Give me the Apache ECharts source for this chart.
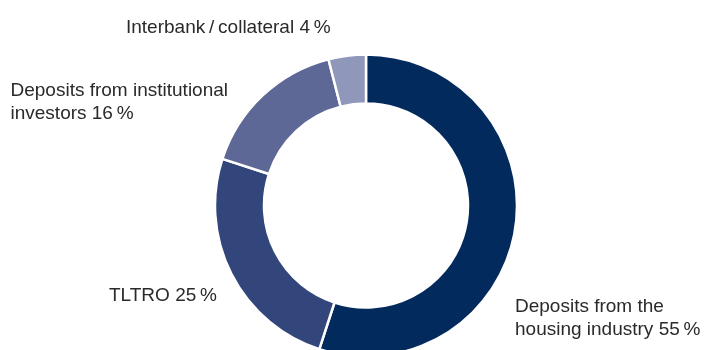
<!DOCTYPE html>
<html>
<head>
<meta charset="utf-8">
<script src="https://cdn.jsdelivr.net/npm/echarts@6/dist/echarts.min.js"></script>
<style>
  html, body { margin: 0; padding: 0; background: #ffffff; }
  #chart { width: 706px; height: 350px; }
</style>
</head>
<body>
<div id="chart"></div>
<script>
// Funding mix, shares in percent (clockwise from 12 o'clock)
const categories = [
  'Deposits from the\nhousing industry',
  'TLTRO',
  'Deposits from institutional\ninvestors',
  'Interbank\u2009/\u2009collateral'
];
const shares = [55, 25, 16, 4];
const sliceColors = ['#022a5d', '#33467b', '#5d6897', '#8f97bb'];

// Where each label block starts (left / top of the text box)
const labelSpots = [
  { x: 515, y: 295.5 },
  { x: 109, y: 284 },
  { x: 10.5, y: 79.5 },
  { x: 126, y: 16.5 }
];

const chart = echarts.init(document.getElementById('chart'), null, { renderer: 'canvas' });

chart.setOption({
  animation: false,
  series: [{
    type: 'pie',
    center: [366, 205.5],
    radius: [102, 151],
    startAngle: 90,
    clockwise: true,
    avoidLabelOverlap: false,
    itemStyle: { borderColor: '#ffffff', borderWidth: 2.5 },
    label: {
      show: true,
      position: 'outside',
      fontFamily: '"Liberation Sans", Arial, Helvetica, sans-serif',
      fontSize: 19,
      lineHeight: 23,
      color: '#2a2a2a',
      formatter: p => p.name + ' ' + p.value + '\u2009%'
    },
    labelLine: { show: false },
    labelLayout: params => {
      const spot = labelSpots[params.dataIndex];
      return { x: spot.x, y: spot.y, align: 'left', verticalAlign: 'top' };
    },
    emphasis: { disabled: true },
    data: categories.map((name, i) => ({
      name: name,
      value: shares[i],
      itemStyle: { color: sliceColors[i] }
    }))
  }]
});
</script>
</body>
</html>
